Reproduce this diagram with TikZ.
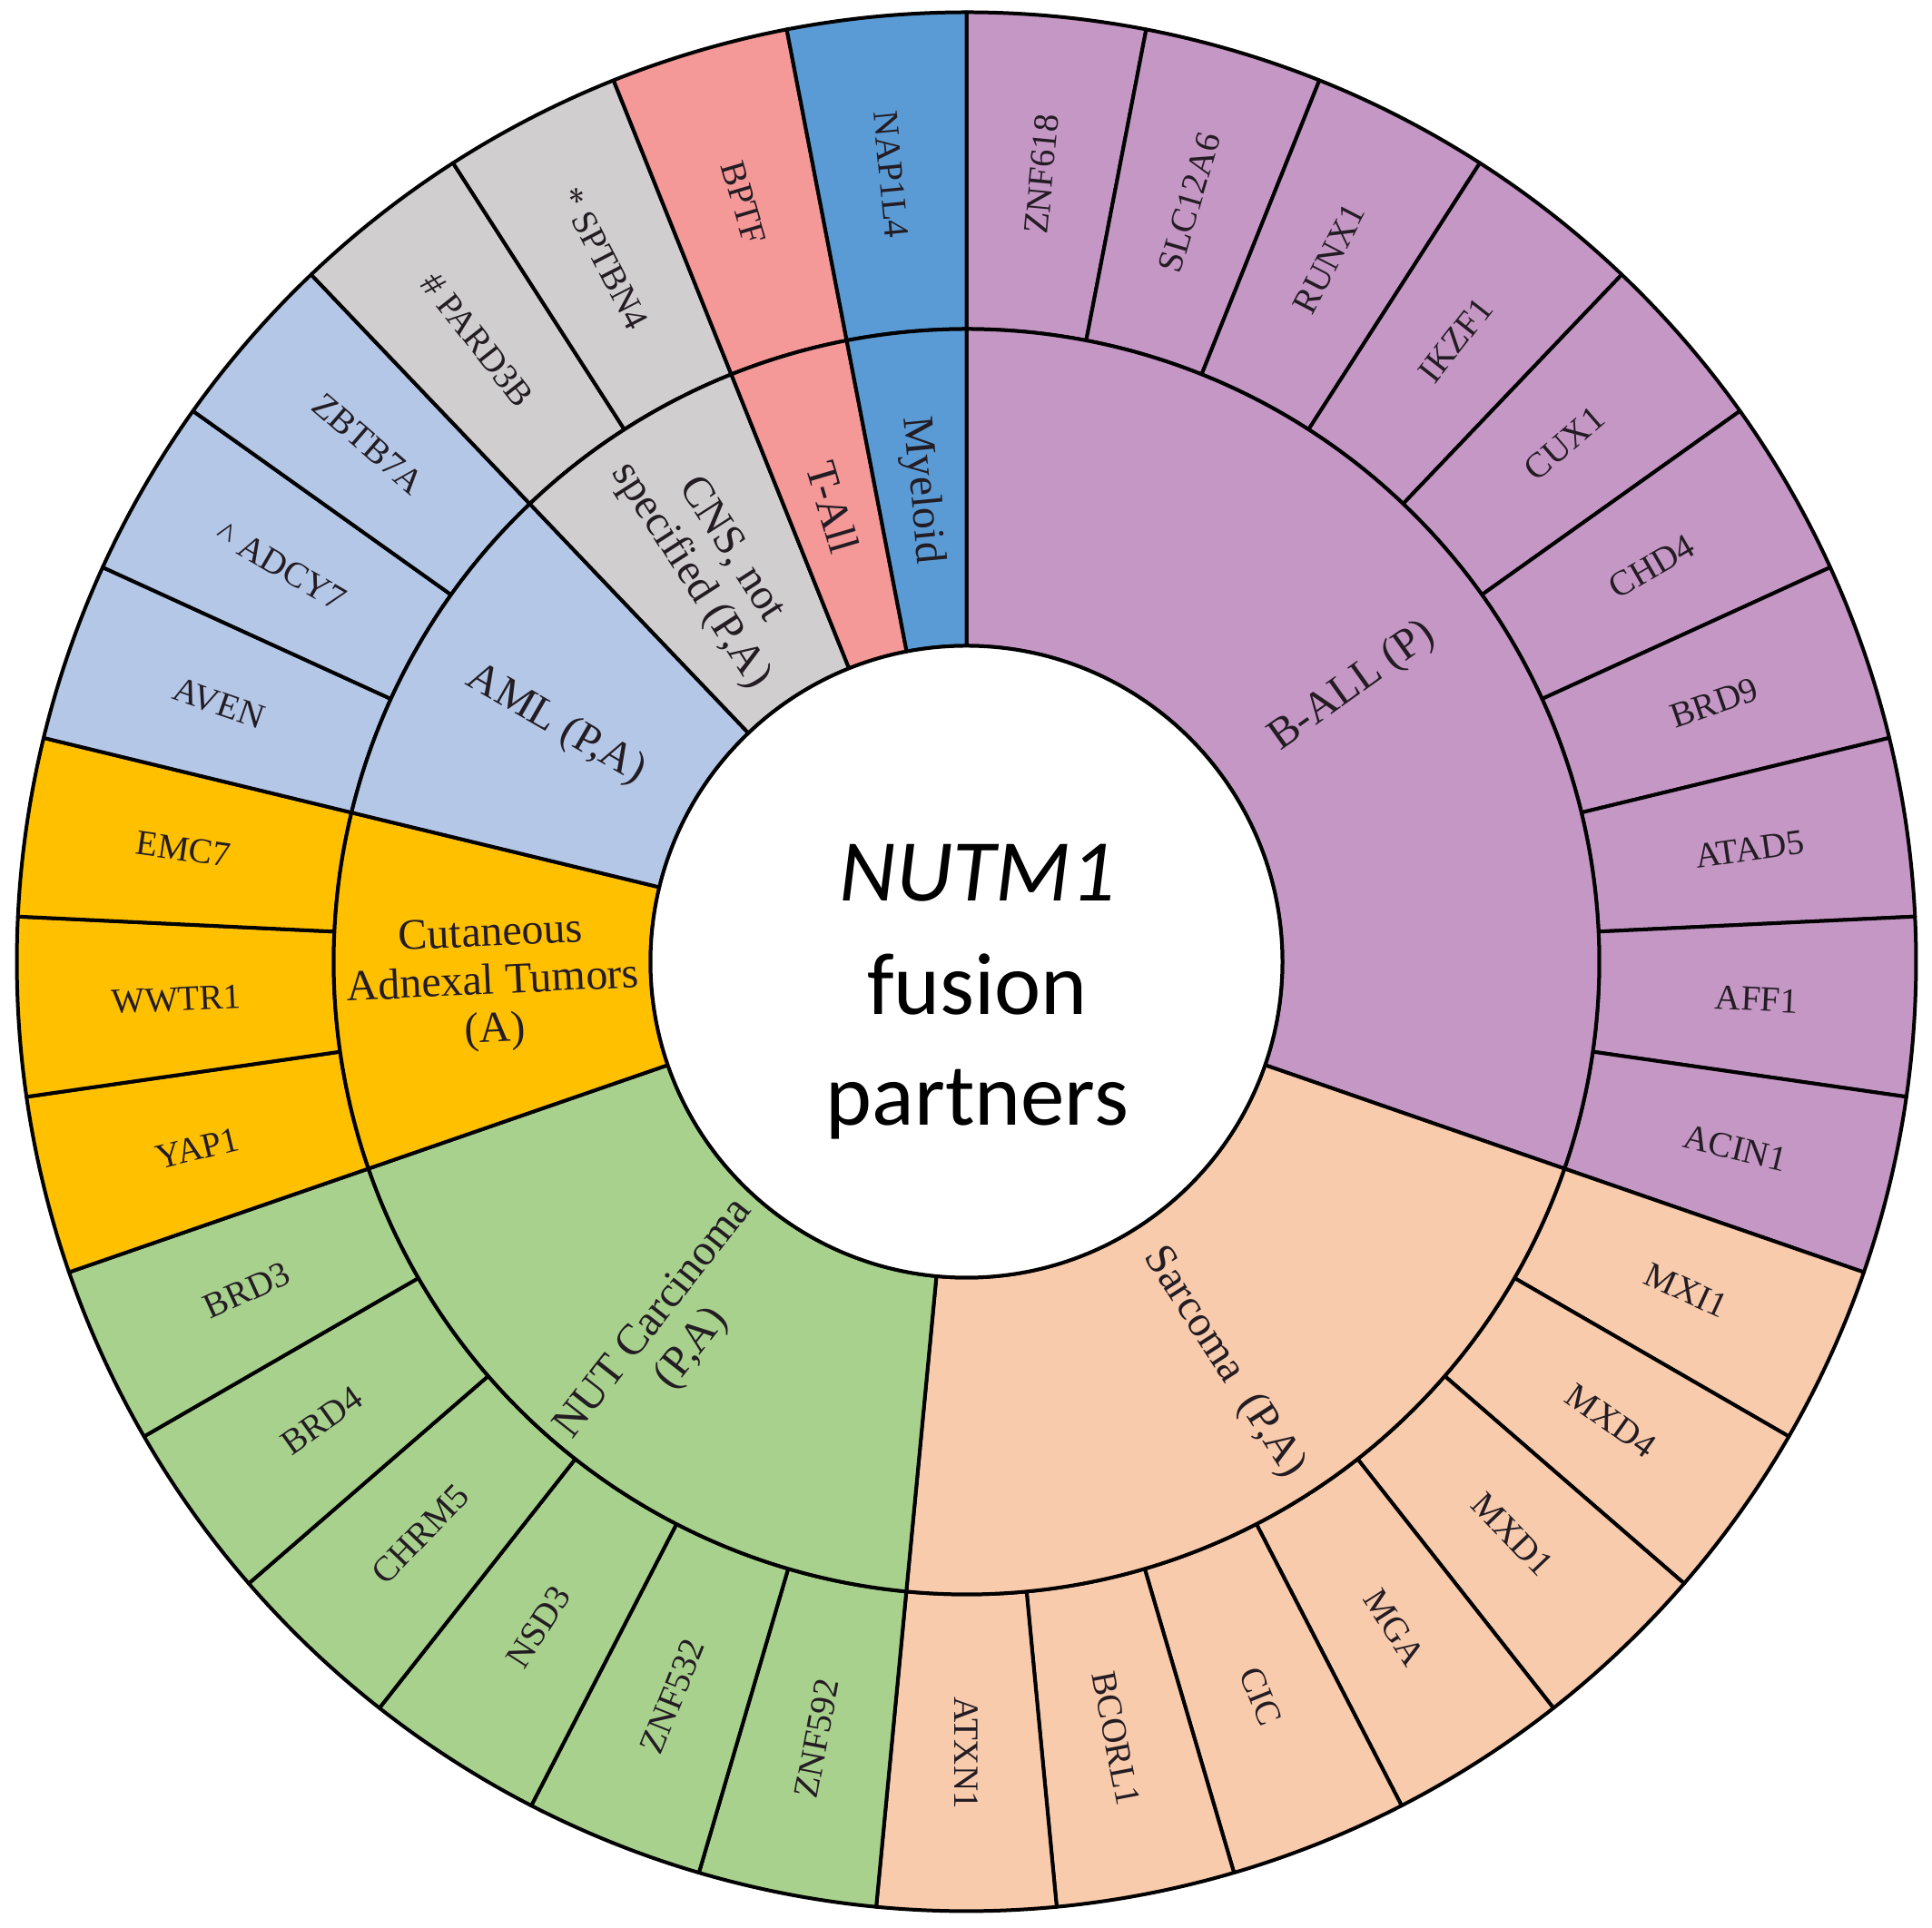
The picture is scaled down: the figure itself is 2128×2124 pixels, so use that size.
\documentclass[tikz,border=0pt]{standalone}
\usepackage{fontspec}
\setmainfont{Liberation Serif}
\newfontfamily\cfont{Carlito}
\definecolor{ballc}{RGB}{196,151,197}
\definecolor{sarcc}{RGB}{248,203,173}
\definecolor{nutc}{RGB}{169,209,142}
\definecolor{cutc}{RGB}{255,192,0}
\definecolor{amlc}{RGB}{180,199,231}
\definecolor{cnsc}{RGB}{208,206,206}
\definecolor{tallc}{RGB}{244,152,152}
\definecolor{myec}{RGB}{91,155,213}
\definecolor{txtc}{RGB}{35,28,35}
\tikzset{
  segline/.style={draw=black, line width=4pt, line join=round},
  olab/.style={text=txtc, font=\fontsize{39}{43}\selectfont, inner sep=0pt},
  ilab/.style={text=txtc, font=\fontsize{48}{53}\selectfont, align=center, inner sep=0pt},
  ctitle/.style={font=\cfont\fontsize{97}{116}\selectfont, anchor=base, inner sep=0pt}
}
\begin{document}
\begin{tikzpicture}[x=1pt,y=1pt]
\useasboundingbox (0,0) rectangle (2128,2124);
\begin{scope}[shift={(1064.5,1064.5)}]
\def\Ro{1046}
\def\Rm{697}
\def\Ri{348}
\pgfmathsetmacro\dd{360/33}
% outer ring
\foreach \i/\lab/\col in {0/ZNF618/ballc,1/SLC12A6/ballc,2/RUNX1/ballc,3/IKZF1/ballc,4/CUX1/ballc,5/CHD4/ballc,6/BRD9/ballc,7/ATAD5/ballc,8/AFF1/ballc,9/ACIN1/ballc,
  10/MXI1/sarcc,11/MXD4/sarcc,12/MXD1/sarcc,13/MGA/sarcc,14/CIC/sarcc,15/BCORL1/sarcc,16/ATXN1/sarcc,
  17/ZNF592/nutc,18/ZNF532/nutc,19/NSD3/nutc,20/CHRM5/nutc,21/BRD4/nutc,22/BRD3/nutc,
  23/YAP1/cutc,24/WWTR1/cutc,25/EMC7/cutc,
  26/AVEN/amlc,27/{\textasciicircum\ ADCY7}/amlc,28/ZBTB7A/amlc,
  29/{\# PARD3B}/cnsc,30/{* SPTBN4}/cnsc,31/BPTF/tallc,32/NAP1L4/myec}{
  \pgfmathsetmacro\aa{90-\i*\dd}
  \pgfmathsetmacro\ab{90-(\i+1)*\dd}
  \pgfmathsetmacro\am{90-(\i+0.5)*\dd}
  \pgfmathsetmacro\rot{ifthenelse(\am>-90,\am,\am+180)}
  \path[segline, fill=\col] (\aa:\Rm) -- (\aa:\Ro) arc[start angle=\aa, end angle=\ab, radius=\Ro] -- (\ab:\Rm) arc[start angle=\ab, end angle=\aa, radius=\Rm] -- cycle;
  \node[olab, rotate=\rot] (o\i) at (\am:871.5) {\lab};
}
% inner ring
\foreach \s/\e/\col in {0/10/ballc,10/17/sarcc,17/23/nutc,23/26/cutc,26/29/amlc,29/31/cnsc,31/32/tallc,32/33/myec}{
  \pgfmathsetmacro\aa{90-\s*\dd}
  \pgfmathsetmacro\ab{90-\e*\dd}
  \path[segline, fill=\col] (\aa:\Ri) -- (\aa:\Rm) arc[start angle=\aa, end angle=\ab, radius=\Rm] -- (\ab:\Ri) arc[start angle=\ab, end angle=\aa, radius=\Ri] -- cycle;
}
\pgfmathsetmacro\mA{90-5*\dd}
\pgfmathsetmacro\mB{90-13.5*\dd}
\pgfmathsetmacro\mC{90-20*\dd}
\pgfmathsetmacro\mD{90-24.5*\dd}
\pgfmathsetmacro\mE{90-27.5*\dd}
\pgfmathsetmacro\mF{90-30*\dd}
\pgfmathsetmacro\mG{90-31.5*\dd}
\pgfmathsetmacro\mH{90-32.5*\dd}
\node[ilab, rotate=\mA] (ball) at (\mA:522) {B-ALL (P)};
\node[ilab, rotate=\mB] (sarc) at (\mB:525) {Sarcoma~~(P,A)};
\node[ilab, rotate=\mC+180] (nut) at (\mC:522) {NUT Carcinoma\\(P,A)};
\node[ilab, rotate=\mD+180] (cut) at (\mD:522) {Cutaneous\\Adnexal Tumors\\(A)};
\node[ilab, rotate=\mE+180] (aml) at (\mE:522) {AML (P,A)};
\node[ilab, rotate=\mF+180] (cns) at (\mF:522) {CNS, not\\specified (P,A)};
\node[ilab, rotate=\mG+180] (tall) at (\mG:522) {T-All};
\node[ilab, rotate=\mH+180] (mye) at (\mH:522) {Myeloid};
% hub
\node[circle, draw=black, line width=4pt, fill=white, minimum size=696pt, inner sep=0pt] (hub) at (0,0) {};
\node[ctitle] (t1) at (12,66.5) {\itshape NUTM1};
\node[ctitle] (t2) at (12,-58.5) {fusion};
\node[ctitle] (t3) at (12,-180.5) {partners};
\end{scope}
\end{tikzpicture}
\end{document}
